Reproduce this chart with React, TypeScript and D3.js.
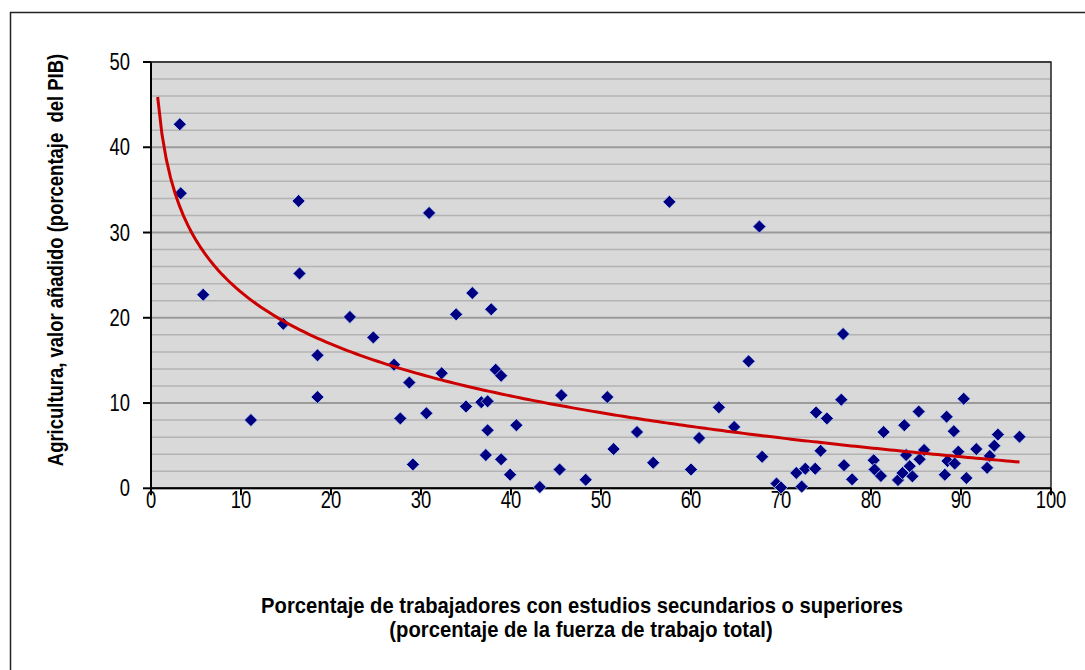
import React from "react";
import * as d3 from "d3";

const xValues = [3.2,3.3,5.8,11.1,14.7,16.4,16.5,18.5,18.5,22.1,24.7,27.0,27.7,28.7,29.1,30.6,30.9,32.3,33.9,35.0,35.7,36.7,37.4,37.4,37.2,37.8,38.3,38.9,38.9,39.9,40.6,43.2,45.6,45.4,48.3,50.7,51.4,54.0,55.8,57.6,60.0,60.9,63.1,64.8,66.4,67.6,67.9,69.5,70.0,71.7,72.3,72.7,73.8,73.9,74.4,75.1,76.7,76.9,77.0,77.9,80.3,80.4,81.1,81.4,83.0,83.5,83.7,83.9,84.3,84.6,85.3,85.4,85.9,88.2,88.4,88.5,89.2,89.3,89.7,90.3,90.6,91.7,92.9,93.2,93.7,94.1,96.5];
const yValues = [42.7,34.6,22.7,8.0,19.3,33.7,25.2,15.6,10.7,20.1,17.7,14.5,8.2,12.4,2.8,8.8,32.3,13.5,20.4,9.6,22.9,10.1,10.2,6.8,3.9,21.0,13.9,13.2,3.4,1.6,7.4,0.15,10.9,2.2,1.0,10.7,4.6,6.6,3.0,33.6,2.2,5.9,9.5,7.2,14.9,30.7,3.7,0.55,0.1,1.8,0.2,2.3,2.3,8.9,4.4,8.2,10.4,18.1,2.7,1.05,3.3,2.2,1.45,6.6,0.97,1.8,7.4,3.9,2.6,1.4,9.0,3.4,4.5,1.6,8.4,3.2,6.7,2.9,4.3,10.5,1.2,4.6,2.4,3.8,5.0,6.3,6.05];

const xTicks = [0,10,20,30,40,50,60,70,80,90,100];
const yTicks = [0,10,20,30,40,50];
const yGrid = d3.range(0, 51, 2);

// logarithmic trend line y = a + b ln(x)
const trendA = 43.25;
const trendB = -8.79;
const trendXRange = [0.74, 96.5];

const xTitle1 = "Porcentaje de trabajadores con estudios secundarios o superiores";
const xTitle2 = "(porcentaje de la fuerza de trabajo total)";
const yTitle = "Agricultura, valor añadido (porcentaje  del PIB)";

export default function App() {
  const W = 1085, H = 670;
  const left = 151, right = 1051, top = 62, bottom = 488.3;
  const x = d3.scaleLinear().domain([0, 100]).range([left, right]);
  const y = d3.scaleLinear().domain([0, 50]).range([bottom, top]);

  const trendPts = d3.range(0, 201).map(i => {
    const xv = trendXRange[0] + (trendXRange[1] - trendXRange[0]) * i / 200;
    return [xv, trendA + trendB * Math.log(xv)] as [number, number];
  });
  const line = d3.line<[number, number]>().x(d => x(d[0])).y(d => y(d[1])).curve(d3.curveLinear);

  const font = "'Liberation Sans', Arial, sans-serif";
  const s = 6.5;
  const diamond = `M0,${-s}L${s},0L0,${s}L${-s},0Z`;

  return (
    <svg width={W} height={H} style={{ position: "absolute", left: 0, top: 0, display: "block", background: "#fff" }}>
      <rect x={10.5} y={12.5} width={1100} height={700} fill="#fff" stroke="#222" strokeWidth={1.5} />
      <rect x={left} y={top} width={right - left} height={bottom - top} fill="#d9d9d9" />
      {yGrid.map(v => (
        <line key={v} x1={left} x2={right} y1={y(v)} y2={y(v)}
          stroke={v % 10 === 0 ? "#9a9a9a" : "#b3b3b3"} strokeWidth={v % 10 === 0 ? 2 : 1.5} />
      ))}
      <rect x={left} y={top} width={right - left} height={bottom - top} fill="none" stroke="#222" strokeWidth={1.5} />
      <line x1={left} x2={left} y1={top} y2={bottom + 1} stroke="#000" strokeWidth={2} />
      <line x1={left - 1} x2={right} y1={bottom} y2={bottom} stroke="#000" strokeWidth={2} />
      {yTicks.map(v => (
        <g key={v}>
          <line x1={left - 8} x2={left} y1={y(v)} y2={y(v)} stroke="#000" strokeWidth={2} />
          <text transform={`translate(130,${y(v) + 8}) scale(0.8,1)`} textAnchor="end" fontFamily={font} fontSize={23} fill="#000">{v}</text>
        </g>
      ))}
      {xTicks.map(v => (
        <g key={v}>
          <line x1={x(v)} x2={x(v)} y1={bottom} y2={bottom + 7} stroke="#000" strokeWidth={2} />
          <text transform={`translate(${x(v)},${bottom + 20}) scale(0.8,1)`} textAnchor="middle" fontFamily={font} fontSize={23} fill="#000">{v}</text>
        </g>
      ))}
      {xValues.map((xv, i) => (
        <path key={i} d={diamond} transform={`translate(${x(xv)},${y(yValues[i])})`}
          fill="#000080" stroke="#b8d4f4" strokeWidth={0.8} />
      ))}
      <path d={line(trendPts) || ""} fill="none" stroke="#cc0000" strokeWidth={3} />
      <text transform="translate(582,613) scale(0.92,1)" textAnchor="middle" fontFamily={font} fontWeight="bold" fontSize={22} fill="#000">{xTitle1}</text>
      <text transform="translate(581,637) scale(0.92,1)" textAnchor="middle" fontFamily={font} fontWeight="bold" fontSize={22} fill="#000">{xTitle2}</text>
      <text transform="translate(63,260) rotate(-90) scale(0.84,1)" textAnchor="middle" style={{ whiteSpace: "pre" }} fontFamily={font} fontWeight="bold" fontSize={22} fill="#000">{yTitle}</text>
    </svg>
  );
}
